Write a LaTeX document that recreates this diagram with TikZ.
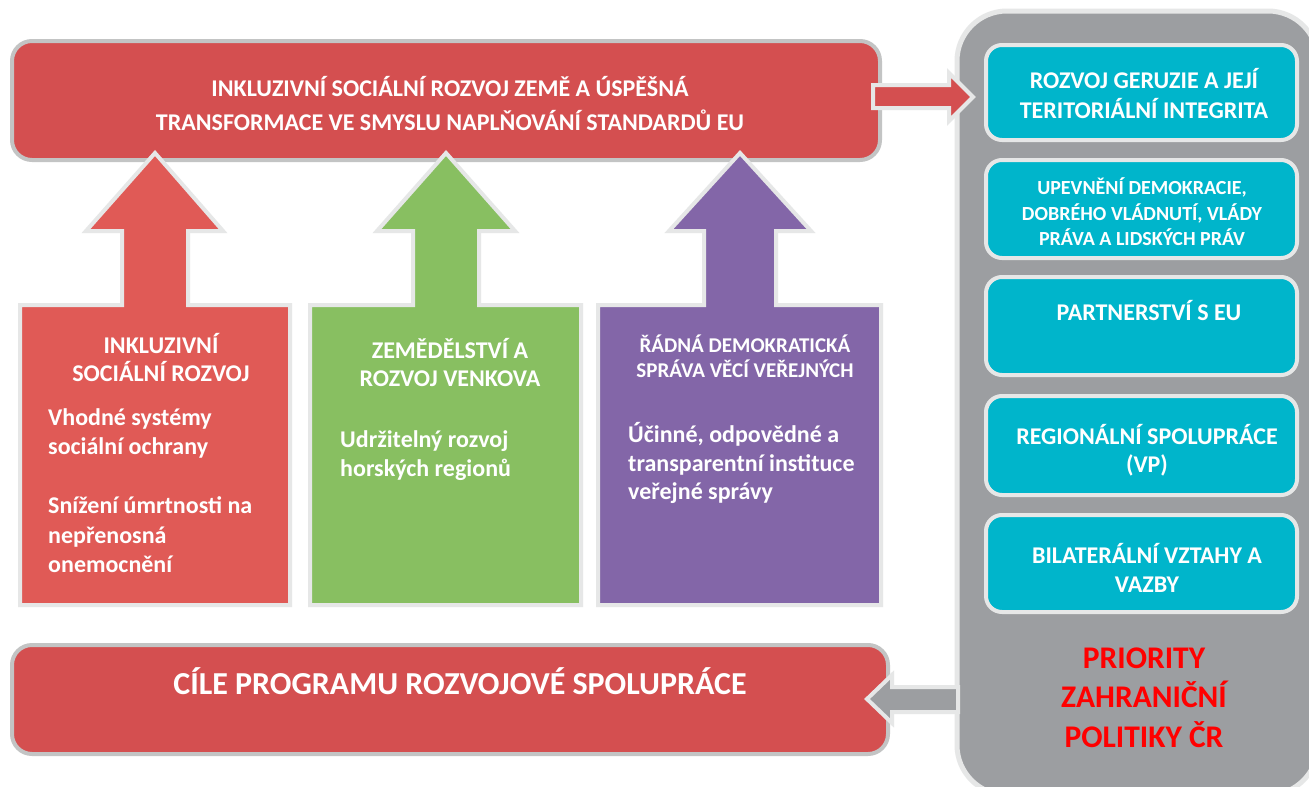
\documentclass[tikz,border=0pt]{standalone}
\usepackage{fontspec}
\setmainfont{Carlito}
\definecolor{bannerred}{HTML}{D44F50}
\definecolor{arrred}{HTML}{E05A56}
\definecolor{arrgreen}{HTML}{88BF61}
\definecolor{arrpurple}{HTML}{8366A8}
\definecolor{panelgray}{HTML}{9C9EA1}
\definecolor{cyanbox}{HTML}{00B5CB}
\definecolor{rimgray}{HTML}{C3C4C4}
\definecolor{rimlight}{HTML}{E6E7E7}
\definecolor{prred}{HTML}{FF0000}
\begin{document}
\begin{tikzpicture}[x=1pt,y=-1pt,
  banner/.style={draw=rimgray, line width=4pt, fill=bannerred, rounded corners=20pt},
  blockarrow/.style={draw=rimlight, line width=4pt, line join=miter},
  cbox/.style={draw=rimlight, line width=4pt, fill=cyanbox, rounded corners=16pt},
  ln/.style={anchor=base, inner sep=0pt, text=white, font=\bfseries\fontsize{24}{28}\selectfont},
  lnl/.style={ln, anchor=base west},
  small/.style={font=\bfseries\fontsize{21}{25}\selectfont},
  smaller/.style={font=\bfseries\fontsize{20}{24}\selectfont},
  prio/.style={anchor=base, inner sep=0pt, text=prred, font=\bfseries\fontsize{31.5}{36}\selectfont}
]
\clip (0,0) rectangle (1309,787);
\fill[white] (0,0) rectangle (1309,787);

% right panel
\draw[draw=rimlight, line width=5pt, fill=panelgray, rounded corners=50pt]
  (957,11) rectangle (1318,795);

% top banner
\draw[banner] (12,41) rectangle (880,160);
\node[ln] (t1) at (450,96) {INKLUZIVNÍ SOCIÁLNÍ ROZVOJ ZEMĚ A ÚSPĚŠNÁ};
\node[ln] (t2) at (450,130) {TRANSFORMACE VE SMYSLU NAPLŇOVÁNÍ STANDARDŮ EU};

% bottom banner
\draw[banner] (12,645) rectangle (888,754);
\node[ln, font=\bfseries\fontsize{32}{36}\selectfont] (b1) at (460,694) {CÍLE PROGRAMU ROZVOJOVÉ SPOLUPRÁCE};

% red right arrow
\draw[blockarrow, fill=bannerred]
  (873,85) -- (949,85) -- (949,73) -- (973,97) -- (949,121) -- (949,108) -- (873,108) -- cycle;

% gray left arrow
\draw[blockarrow, fill=panelgray]
  (958,687) -- (892,687) -- (892,675) -- (867,699) -- (892,723) -- (892,712) -- (958,712) -- cycle;

% up arrows
\draw[blockarrow, fill=arrred]
  (20,605) -- (20,305) -- (122,305) -- (122,231) -- (86,231) -- (155,153) -- (223,231) -- (188,231) -- (188,305) -- (290,305) -- (290,605) -- cycle;
\draw[blockarrow, fill=arrgreen]
  (310,605) -- (310,305) -- (413,305) -- (413,231) -- (377,231) -- (446,153) -- (515,231) -- (479,231) -- (479,305) -- (581,305) -- (581,605) -- cycle;
\draw[blockarrow, fill=arrpurple]
  (598,605) -- (598,305) -- (704,305) -- (704,231) -- (669,231) -- (740,153) -- (811,231) -- (776,231) -- (776,305) -- (881,305) -- (881,605) -- cycle;

% red box text
\node[ln] (r1) at (161,353) {INKLUZIVNÍ};
\node[ln] (r2) at (161,381) {SOCIÁLNÍ ROZVOJ};
\node[lnl] (r3) at (48,425) {Vhodné systémy};
\node[lnl] (r4) at (48,454) {sociální ochrany};
\node[lnl] (r5) at (48,513) {Snížení úmrtnosti na};
\node[lnl] (r6) at (48,543) {nepřenosná};
\node[lnl] (r7) at (48,572) {onemocnění};

% green box text
\node[ln] (g1) at (450,358) {ZEMĚDĚLSTVÍ A};
\node[ln] (g2) at (450,386) {ROZVOJ VENKOVA};
\node[lnl] (g3) at (340,447) {Udržitelný rozvoj};
\node[lnl] (g4) at (340,476) {horských regionů};

% purple box text
\node[ln, small] (p1) at (745,352) {ŘÁDNÁ DEMOKRATICKÁ};
\node[ln, small] (p2) at (745,377) {SPRÁVA VĚCÍ VEŘEJNÝCH};
\node[lnl] (p3) at (628,442) {Účinné, odpovědné a};
\node[lnl] (p4) at (628,471) {transparentní instituce};
\node[lnl] (p5) at (628,499) {veřejné správy};

% cyan boxes
\draw[cbox] (986,45) rectangle (1297,140);
\node[ln] (c11) at (1144,88) {ROZVOJ GERUZIE A JEJÍ};
\node[ln] (c12) at (1144,118) {TERITORIÁLNÍ INTEGRITA};

\draw[cbox] (986,160) rectangle (1297,258);
\node[ln, smaller] (c21) at (1142,194) {UPEVNĚNÍ DEMOKRACIE,};
\node[ln, smaller] (c22) at (1142,220) {DOBRÉHO VLÁDNUTÍ, VLÁDY};
\node[ln, smaller] (c23) at (1142,245) {PRÁVA A LIDSKÝCH PRÁV};

\draw[cbox] (986,277) rectangle (1297,375);
\node[ln] (c31) at (1149,320) {PARTNERSTVÍ S EU};

\draw[cbox] (986,396) rectangle (1297,495);
\node[ln] (c41) at (1147,444) {REGIONÁLNÍ SPOLUPRÁCE};
\node[ln] (c42) at (1147,472) {(VP)};

\draw[cbox] (986,515) rectangle (1297,612);
\node[ln] (c51) at (1147,563) {BILATERÁLNÍ VZTAHY A};
\node[ln] (c52) at (1147,592) {VAZBY};

% priorities
\node[prio] (pr1) at (1144,668) {PRIORITY};
\node[prio] (pr2) at (1144,707) {ZAHRANIČNÍ};
\node[prio] (pr3) at (1144,747) {POLITIKY ČR};
\end{tikzpicture}
\end{document}
